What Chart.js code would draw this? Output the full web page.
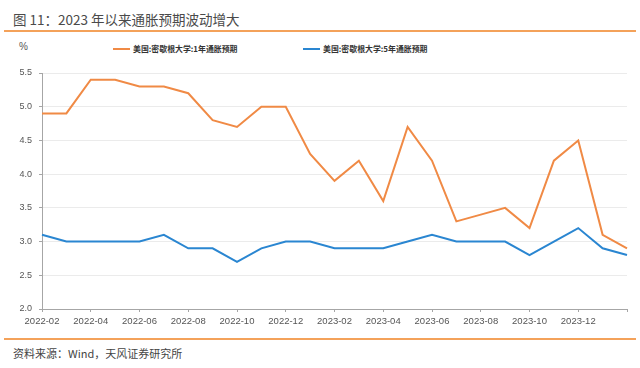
<!DOCTYPE html>
<html lang="zh">
<head>
<meta charset="UTF-8">
<title>图 11</title>
<script src="https://cdn.jsdelivr.net/npm/chart.js"></script>
<style>
  body { margin: 0; width: 640px; height: 368px; background: #fff; position: relative; overflow: hidden;
         font-family: "Noto Sans CJK SC", "Noto Sans", sans-serif; }
  .title { position: absolute; left: 13px; top: 9px; font-size: 13.5px; color: #4a4a4a; }
  .rule { position: absolute; left: 4px; right: 4px; height: 2px; background: #f4a25a; }
  .unit { position: absolute; left: 19px; top: 41px; font-size: 10px; color: #555; font-family: "Liberation Sans", sans-serif; }
  .legend { position: absolute; top: 43px; font-size: 7.9px; font-weight: bold; color: #333; white-space: nowrap; }
  .legend i { display: inline-block; width: 17px; height: 2px; vertical-align: middle; margin-right: 3px; position: relative; top: -1px; }
  .source { position: absolute; left: 13px; top: 345px; font-size: 11px; color: #444; }
  #wrap { position: absolute; left: 0; top: 60px; width: 640px; height: 280px; }
</style>
</head>
<body>
  <div class="title">图 11：2023 年以来通胀预期波动增大</div>
  <div class="rule" style="top:30px"></div>
  <div class="unit">%</div>
  <div class="legend" style="left:113px"><i style="background:#f08a45"></i>美国:密歇根大学:1年通胀预期</div>
  <div class="legend" style="left:303px"><i style="background:#2a86d1"></i>美国:密歇根大学:5年通胀预期</div>
  <div id="wrap"><canvas id="chart"></canvas></div>
  <div class="rule" style="top:338px"></div>
  <div class="source">资料来源：Wind，天风证券研究所</div>

<script>
  // mois, de 2022-02 à 2024-02
  var months = ["2022-02","2022-03","2022-04","2022-05","2022-06","2022-07","2022-08","2022-09","2022-10","2022-11","2022-12",
                "2023-01","2023-02","2023-03","2023-04","2023-05","2023-06","2023-07","2023-08","2023-09","2023-10","2023-11","2023-12",
                "2024-01","2024-02"];
  // 1年通胀预期
  var oneYear = [4.9,4.9,5.4,5.4,5.3,5.3,5.2,4.8,4.7,5.0,5.0,4.3,3.9,4.2,3.6,4.7,4.2,3.3,3.4,3.5,3.2,4.2,4.5,3.1,2.9];
  // 5年通胀预期
  var fiveYear = [3.1,3.0,3.0,3.0,3.0,3.1,2.9,2.9,2.7,2.9,3.0,3.0,2.9,2.9,2.9,3.0,3.1,3.0,3.0,3.0,2.8,3.0,3.2,2.9,2.8];
  var yMin = 2.0, yMax = 5.5, yStep = 0.5;

  var ctx = document.getElementById("chart").getContext("2d");
  new Chart(ctx, {
    type: "line",
    data: {
      labels: months,
      datasets: [
        { label: "美国:密歇根大学:1年通胀预期", data: oneYear, borderColor: "#f08a45", borderWidth: 2, pointRadius: 0, tension: 0 },
        { label: "美国:密歇根大学:5年通胀预期", data: fiveYear, borderColor: "#2a86d1", borderWidth: 2, pointRadius: 0, tension: 0 }
      ]
    },
    options: {
      responsive: true,
      maintainAspectRatio: false,
      animation: false,
      layout: { padding: { top: 13, right: 13, left: 0, bottom: 0 } },
      plugins: { legend: { display: false }, tooltip: { enabled: false } },
      scales: {
        x: {
          offset: false,
          afterFit: function (scale) { scale.height = 31; },
          border: { color: "#a6a6a6" },
          grid: { drawOnChartArea: false, drawTicks: true, tickLength: 3, tickColor: "#a6a6a6" },
          ticks: {
            autoSkip: false, maxRotation: 0, padding: 4,
            color: "#555", font: { family: "'Liberation Sans Narrow', 'Liberation Sans'", size: 9.5 },
            callback: function (v, i) {
              if (i === months.length - 1) return "";
              return i % 2 === 0 ? months[i] : null;
            }
          }
        },
        y: {
          min: yMin, max: yMax,
          afterFit: function (scale) { scale.width = 42; },
          border: { color: "#a6a6a6" },
          grid: { color: "#ebebeb", tickColor: "#a6a6a6", tickLength: 3 },
          ticks: {
            stepSize: yStep, padding: 7,
            color: "#555", font: { family: "'Liberation Sans'", size: 9 },
            callback: function (v) { return Number(v).toFixed(1); }
          }
        }
      }
    }
  });
</script>
</body>
</html>
